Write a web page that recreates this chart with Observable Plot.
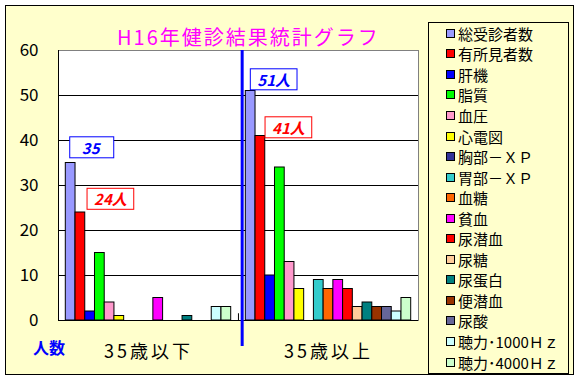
<!DOCTYPE html>
<html><head><meta charset="utf-8">
<script src="https://cdn.jsdelivr.net/npm/d3@7"></script>
<script src="https://cdn.jsdelivr.net/npm/@observablehq/plot@0.6"></script>
<style>
body{margin:0;background:#fff;}
#wrap{position:relative;width:577px;height:381px;overflow:hidden;font-family:"Noto Sans CJK JP",sans-serif;}
#bg{position:absolute;left:5px;top:5px;width:569px;height:370px;background:#FFFFCC;border:1px solid #000;box-sizing:border-box;}
#chart{position:absolute;left:0;top:0;}
#title{position:absolute;left:117px;top:22px;font-size:20px;letter-spacing:2px;color:#FF00FF;white-space:nowrap;}
#ylab{position:absolute;left:33px;top:335px;font-size:16px;font-weight:bold;color:#0000FF;}
#legend{position:absolute;left:428px;top:22px;width:141px;height:352px;box-sizing:border-box;border:1px solid #000;background:#FFFFCC;}
.li{height:20.55px;display:flex;align-items:center;font-size:15px;white-space:nowrap;line-height:1;margin-left:17px;}
.sw{width:9px;height:9px;border:1px solid #000;margin-right:3px;flex:none;box-sizing:border-box;}
</style></head>
<body><div id="wrap"><div id="bg"></div><div id="chart"></div>
<div id="title">H16年健診結果統計グラフ</div>
<div id="ylab">人数</div>
<div id="legend"></div></div>
<script>
const categories = ["35歳以下", "35歳以上"];
const series = ["総受診者数","有所見者数","肝機","脂質","血圧","心電図","胸部－ＸＰ","胃部－ＸＰ","血糖","貧血","尿潜血","尿糖","尿蛋白","便潜血","尿酸","聴力･1000Ｈｚ","聴力･4000Ｈｚ"];
const under35 = [35,24,2,15,4,1,0,0,0,5,0,0,1,0,0,3,3];
const over35 = [51,41,10,34,13,7,0,9,7,9,7,3,4,3,3,2,5];
const colors = ["#9999FF","#FF0000","#0000FF","#00FF00","#FF99CC","#FFFF00","#333399","#33CCCC","#FF6600","#FF00FF","#FF0000","#FFCC99","#008080","#993300","#666699","#CCFFFF","#CCFFCC"];
const yTicks = [0,10,20,30,40,50,60];
const labelTexts = {"35歳以下": ["35","24人"], "35歳以上": ["51人","41人"]};

const data = [];
categories.forEach((c, ci) => {
  const vals = ci === 0 ? under35 : over35;
  series.forEach((s, si) => data.push({cat: c, series: s, value: vals[si]}));
});
const labels = [];
categories.forEach(c => labelTexts[c].forEach((t, i) => {
  const d = data.find(d => d.cat === c && d.series === series[i]);
  labels.push({...d, text: t, idx: i});
}));
function lab(c, i, dx, dy) {
  const col = i === 0 ? "#0000FF" : "#FF0000";
  return Plot.text(labels.filter(d => d.cat === c && d.idx === i), {
    fx: "cat", x: "series", y: "value", text: "text", dx, dy,
    fill: col, fontSize: 15, fontWeight: "bold", fontStyle: "italic",
    className: "vlabel"
  });
}
const firstOf2 = data.filter(d => d.cat === categories[1] && d.series === series[0]);

const chart = Plot.plot({
  width: 577, height: 381,
  marginLeft: 57, marginRight: 159, marginTop: 50, marginBottom: 61,
  style: {background: "transparent", fontFamily: "'Noto Sans CJK JP', sans-serif", overflow: "visible"},
  fx: {domain: categories, padding: 0, label: null},
  x: {domain: series, paddingInner: 0, paddingOuter: 0.75, round: false, axis: null},
  y: {domain: [0, 60], label: null},
  color: {domain: series, range: colors},
  marks: [
    Plot.frame({facet: "super", fill: "white", stroke: "#808080"}),
    Plot.ruleY([10,20,30,40,50], {stroke: "black"}),
    Plot.ruleY([0], {stroke: "black"}),
    Plot.frame({facet: "super", anchor: "left", stroke: "black"}),
    Plot.ruleX(firstOf2, {fx: "cat", x: "series", y1: 0, y2: 1.5, dx: -12.2, stroke: "black"}),
    Plot.axisY({ticks: yTicks, tickSize: 0, tickPadding: 20, fontSize: 17, label: null}),
    Plot.axisFx({anchor: "bottom", tickSize: 0, tickPadding: 25, fontSize: 18, label: null, className: "fxaxis"}),
    Plot.barY(data, {fx: "cat", x: "series", y: "value", fill: "series", stroke: "black", strokeWidth: 1, inset: 0}),
    Plot.ruleX(firstOf2, {fx: "cat", x: "series", y1: -5.8, y2: 60, dx: -8.5, stroke: "#0000FF", strokeWidth: 3}),
    lab(categories[0], 0, 20, -14),
    lab(categories[0], 1, 30, -12),
    lab(categories[1], 0, 23, -10),
    lab(categories[1], 1, 28, -7)
  ]
});
document.getElementById("chart").appendChild(chart);

d3.select(chart).selectAll("g.fxaxis text").style("letter-spacing", "3px");

// boxes behind value labels, sized from each rendered text
d3.select(chart).selectAll("g.vlabel text").each(function() {
  const bb = this.getBBox();
  const col = this.getAttribute("fill") || this.parentNode.getAttribute("fill");
  const w = Math.max(bb.width + 14, 44);
  const cx = bb.x + bb.width / 2;
  const r = document.createElementNS("http://www.w3.org/2000/svg", "rect");
  r.setAttribute("x", cx - w / 2);
  r.setAttribute("y", bb.y + bb.height / 2 - 10.5);
  r.setAttribute("width", w);
  r.setAttribute("height", 21);
  r.setAttribute("fill", "white");
  r.setAttribute("stroke", col);
  r.setAttribute("stroke-width", 1);
  const tr = this.getAttribute("transform");
  if (tr) r.setAttribute("transform", tr);
  this.parentNode.insertBefore(r, this);
});

const legend = d3.select("#legend");
series.forEach((s, i) => {
  const row = legend.append("div").attr("class", "li");
  row.append("div").attr("class", "sw").style("background", colors[i]);
  row.append("span").text(s);
});
</script></body></html>
